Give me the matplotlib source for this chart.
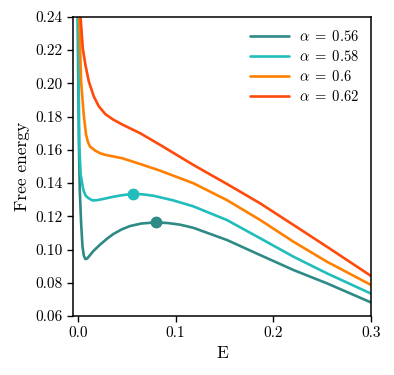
import numpy as np
import matplotlib
matplotlib.use("Agg")
import matplotlib.pyplot as plt

# valeurs
alphas = ["0.56", "0.58", "0.6", "0.62"]
couleurs = ["#2e8a86", "#21bcbc", "#ff8000", "#ff4a0a"]

E_056 = [-0.0002, 0.0005, 0.0012, 0.002, 0.0035, 0.0048, 0.0062, 0.0078, 0.0095, 0.012,
         0.016, 0.0228, 0.03, 0.0364, 0.045, 0.0535, 0.065, 0.0795, 0.092, 0.1047,
         0.1183, 0.1525, 0.1866, 0.2207, 0.2549, 0.3]
F_056 = [0.245, 0.20, 0.163, 0.136, 0.115, 0.102, 0.0963, 0.0943, 0.0946, 0.0963,
         0.0992, 0.1030, 0.1066, 0.1094, 0.1122, 0.1142, 0.1157, 0.1164, 0.1160, 0.1150,
         0.1131, 0.1058, 0.0967, 0.0877, 0.0797, 0.0682]

E_058 = [0.0003, 0.001, 0.0015, 0.003, 0.0057, 0.008, 0.0108, 0.015, 0.0194, 0.027,
         0.0364, 0.046, 0.056, 0.066, 0.0774, 0.0978, 0.1183, 0.1525, 0.1866, 0.2207,
         0.2549, 0.3]
F_058 = [0.245, 0.20, 0.163, 0.145, 0.1359, 0.1325, 0.131, 0.1296, 0.1297, 0.1306,
         0.1318, 0.1328, 0.1335, 0.1333, 0.1324, 0.1296, 0.1260, 0.1178, 0.1068, 0.0957,
         0.0857, 0.0735]

E_060 = [0.0014, 0.0016, 0.0024, 0.0034, 0.0061, 0.0085, 0.0105, 0.0125, 0.018, 0.0228,
         0.0282, 0.0453, 0.0638, 0.0842, 0.1183, 0.1525, 0.1866, 0.2207, 0.2549, 0.3]
F_060 = [0.245, 0.2412, 0.2211, 0.2011, 0.181, 0.169, 0.1645, 0.162, 0.1595, 0.158,
         0.157, 0.155, 0.1515, 0.1475, 0.1399, 0.1298, 0.1178, 0.1047, 0.0927, 0.0787]

E_062 = [0.0025, 0.0027, 0.0051, 0.0078, 0.0113, 0.0164, 0.0215, 0.0282, 0.036, 0.0453,
         0.0638, 0.0842, 0.1183, 0.1525, 0.1866, 0.2207, 0.2549, 0.3]
F_062 = [0.245, 0.2412, 0.2211, 0.2111, 0.2011, 0.1921, 0.1862, 0.1815, 0.1783, 0.1753,
         0.1700, 0.1630, 0.1509, 0.1395, 0.1278, 0.1148, 0.1017, 0.0841]

# maxima marques par un point
pts_E = [0.0795, 0.056]
pts_F = [0.1164, 0.1335]

courbes = [(E_056, F_056), (E_058, F_058), (E_060, F_060), (E_062, F_062)]

plt.rcParams["font.family"] = "serif"
plt.rcParams["font.serif"] = ["cmr10"]
plt.rcParams["mathtext.fontset"] = "cm"
plt.rcParams["axes.formatter.use_mathtext"] = True

fig = plt.figure(figsize=(3.94, 3.75), dpi=100)
ax = fig.add_axes([0.185, 0.157, 0.757, 0.798])

for (E, F), a, c in zip(courbes, alphas, couleurs):
    ax.plot(E, F, color=c, lw=1.9, solid_joinstyle="round", solid_capstyle="round",
            label=r"$\alpha\;=\;%s$" % a)

for e, f, c in zip(pts_E, pts_F, couleurs[:2]):
    ax.plot(e, f, "o", color=c, ms=7.5, zorder=5)

ax.set_xlim(-0.005, 0.3)
ax.set_ylim(0.06, 0.24)
ax.set_xticks([0.0, 0.1, 0.2, 0.3])
ax.set_xticklabels(["0.0", "0.1", "0.2", "0.3"])
ax.set_yticks(np.arange(0.06, 0.241, 0.02))
ax.set_yticklabels(["%.2f" % v for v in np.arange(0.06, 0.241, 0.02)])
ax.tick_params(direction="out", length=4.5, width=1.0, labelsize=11, pad=3)
for s in ax.spines.values():
    s.set_linewidth(1.1)

ax.set_xlabel("E", fontsize=12.5)
ax.set_ylabel("Free energy", fontsize=12.5)
ax.legend(loc="upper right", frameon=False, fontsize=10.5, handlelength=2.7,
          handletextpad=0.65, labelspacing=0.33, borderaxespad=0.45)

fig.savefig("out.png", dpi=100)
